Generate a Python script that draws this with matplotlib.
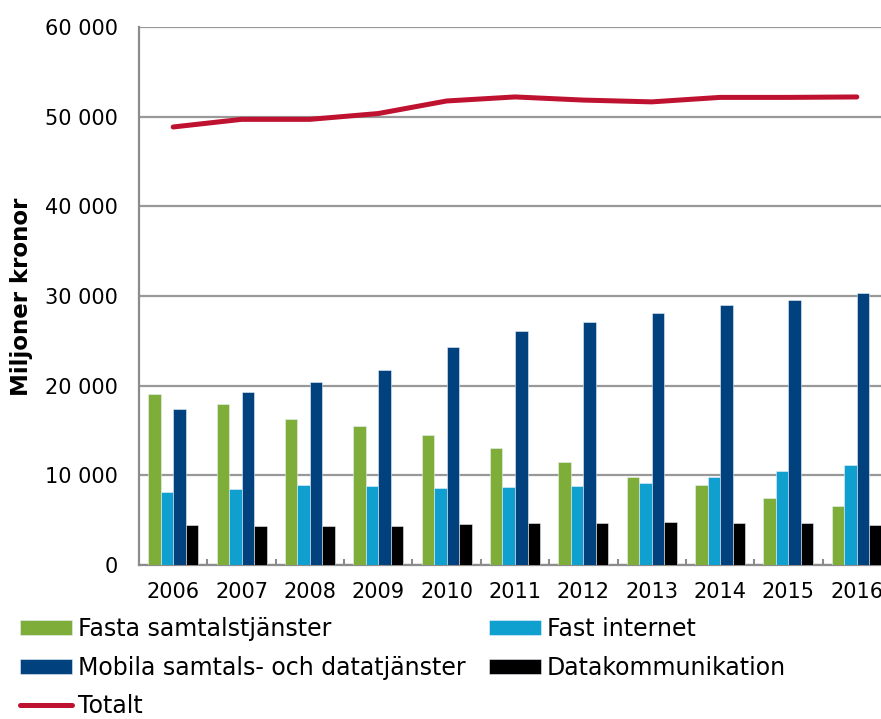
################################################################################
# Imports
################################################################################

import numpy as np
import matplotlib
matplotlib.use("Agg")
import matplotlib.pyplot as plt
from matplotlib.ticker import FuncFormatter, FixedLocator

################################################################################
# Data (miljoner kronor)
################################################################################

years = ["2006", "2007", "2008", "2009", "2010", "2011", "2012", "2013", "2014", "2015", "2016"]

fasta = [19050, 17900, 16250, 15550, 14500, 13000, 11450, 9850, 8900, 7500, 6550]
fast_internet = [8100, 8450, 8900, 8850, 8600, 8700, 8800, 9150, 9800, 10500, 11100]
mobila = [17350, 19300, 20450, 21700, 24350, 26050, 27050, 28100, 28950, 29600, 30300]
datakomm = [4480, 4300, 4300, 4300, 4520, 4630, 4630, 4750, 4720, 4630, 4460]
totalt = [48850, 49700, 49700, 50350, 51750, 52200, 51850, 51650, 52150, 52150, 52200]

labels = ["Fasta samtalstjänster", "Fast internet",
          "Mobila samtals- och datatjänster", "Datakommunikation"]
colors = ["#7FAD39", "#10A0D0", "#00417E", "#000000"]

################################################################################
# Plot
################################################################################

plt.rcParams["font.family"] = "DejaVu Sans"
plt.rcParams["font.size"] = 15

fig = plt.figure(figsize=(8.81, 7.19), dpi=100)
ax = fig.add_axes([139 / 881, 1 - 565 / 719, 752 / 881, 538 / 719])

x = np.arange(len(years))
w = 0.183
bars = []
for i, (vals, col, lab) in enumerate(zip([fasta, fast_internet, mobila, datakomm], colors, labels)):
    b = ax.bar(x + (i - 1.5) * w, vals, width=w, color=col, label=lab,
               edgecolor="#E8F0F8", linewidth=0.4, zorder=3)
    bars.append(b)

line, = ax.plot(x, totalt, color="#BE1230", linewidth=3.6, solid_capstyle="round",
                label="Totalt", zorder=4)

ax.set_xlim(-0.5, len(years) - 0.5)
ax.set_ylim(0, 60000)
ax.set_yticks(range(0, 60001, 10000))
ax.yaxis.set_major_formatter(FuncFormatter(lambda v, p: f"{int(v):,}".replace(",", " ")))
ax.grid(axis="y", color="#999999", linewidth=1.6, zorder=0)
ax.set_axisbelow(True)

ax.set_xticks(x)
ax.set_xticklabels(years)
ax.xaxis.set_minor_locator(FixedLocator(np.arange(0.5, len(years) - 0.5, 1)))
ax.tick_params(axis="x", which="major", length=0, pad=12)
ax.tick_params(axis="x", which="minor", direction="in", length=4.5, width=1.5, color="#8C8C8C")
ax.tick_params(axis="y", length=0, pad=15)

for s in ["top", "right"]:
    ax.spines[s].set_visible(False)
for s in ["left", "bottom"]:
    ax.spines[s].set_color("#8C8C8C")
    ax.spines[s].set_linewidth(1.6)

fig.text(22 / 881, 1 - 297 / 719, "Miljoner kronor", rotation=90, fontsize=16.5,
         fontweight="bold", ha="center", va="center")

# legend: column-wise fill gives the two-per-row layout
handles = [bars[0], bars[2], line, bars[1], bars[3]]
fig.legend(handles, [h.get_label() for h in handles], ncol=2,
           loc="upper left", bbox_to_anchor=(20 / 881, 1 - 617 / 719),
           frameon=False, borderpad=0, borderaxespad=0, handlelength=2.2,
           handleheight=0.6, handletextpad=0.25, columnspacing=1.0,
           labelspacing=0.62, fontsize=17)

fig.savefig("out.png", dpi=100)
